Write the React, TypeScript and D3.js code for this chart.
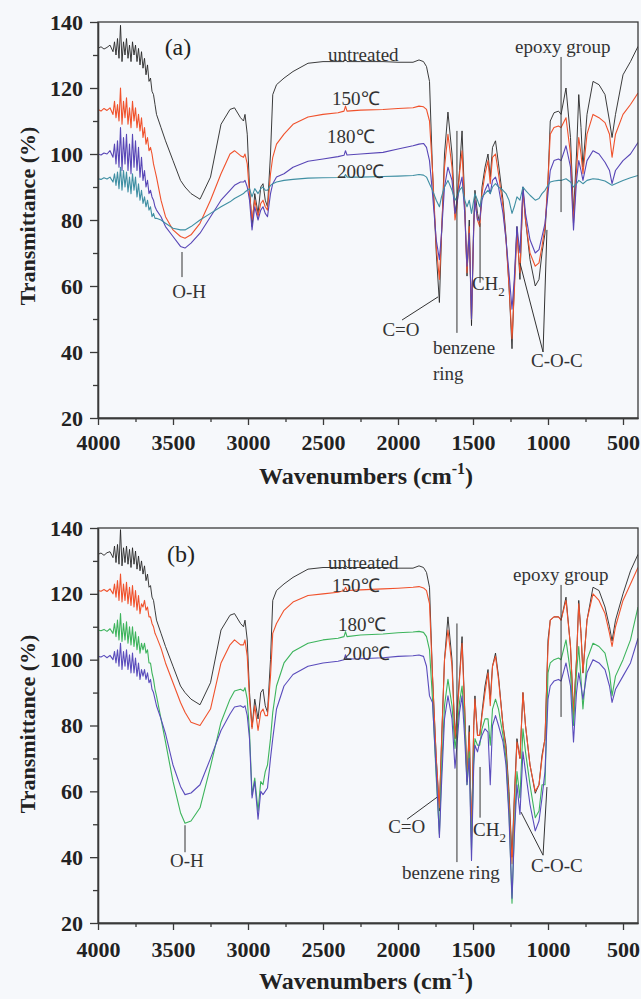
import { useEffect, useRef } from 'react';
import * as d3 from 'd3';

// shared wavenumber grid (cm-1), high to low
const wavenumbers = [
  4000, 3980, 3960, 3940, 3920,
  3900, 3890, 3880, 3870, 3860, 3850, 3840, 3830, 3820, 3810,
  3800, 3790, 3780, 3770, 3760, 3750, 3740, 3730, 3720, 3710,
  3700, 3690, 3680, 3670, 3660, 3650, 3640, 3630, 3620, 3610,
  3580, 3550, 3500, 3450, 3420, 3380, 3320, 3250, 3180, 3120,
  3090, 3050, 3030, 3020, 3005, 2990, 2973, 2955, 2933, 2915,
  2900, 2885, 2870, 2850, 2835, 2810, 2760, 2700, 2600, 2500,
  2400, 2360, 2350, 2340, 2250, 2100, 2000, 1900, 1860, 1830,
  1810, 1790, 1770, 1745, 1724, 1710, 1690, 1667, 1640, 1620,
  1607, 1590, 1573, 1555, 1540, 1525, 1510, 1495, 1487, 1470,
  1455, 1440, 1420, 1400, 1385, 1370, 1350, 1330, 1300, 1280,
  1260, 1240, 1225, 1207, 1187, 1167, 1150, 1120, 1085, 1060,
  1040, 1020, 1000, 985, 960, 930, 913, 880, 850, 830,
  810, 795, 780, 767, 740, 700, 660, 620, 590, 573,
  550, 500, 450, 400,
];

// panel (a)
const untreatedA = [
  132, 132.5, 131.8, 132.3, 133,
  131, 134, 130, 135, 129, 139, 128, 134, 130, 135,
  129, 133, 128, 134, 130, 133, 128, 132, 127, 131,
  126, 129, 124, 127, 122, 123, 119, 118, 115, 112,
  108, 104, 98, 92, 90, 88, 86.3, 93, 109, 113.5,
  114, 111, 110, 112, 106, 90, 78, 88, 82, 90,
  91, 86, 84, 100, 118, 121, 123, 125, 127.5, 128,
  128, 128, 128.6, 128, 128, 128, 127.8, 127.8, 128.5, 128,
  126.5, 122, 95, 70, 55, 75, 100, 112.7, 100, 82,
  86, 95, 107, 85, 63, 80, 48, 80, 89, 82,
  79, 90, 96, 100, 93, 102, 104, 97, 86, 75,
  60, 41, 60, 78, 62, 90, 80, 68, 60, 62,
  70, 76, 92, 110, 112.5, 113, 112, 120, 105, 82,
  100, 118, 108, 96, 112, 122, 121, 118, 110, 105,
  112, 124, 128, 132.6,
];
const t150A = [
  113.5, 113, 113.8, 113.2, 114,
  112, 116, 111, 115, 110, 120, 109, 116, 111, 117,
  109, 114, 108, 116, 110, 114, 108, 112, 107, 111,
  105, 108, 103, 105, 101, 102, 100, 97, 95, 93,
  86, 81, 77, 75, 74.5, 75.5, 79, 86, 94, 100,
  101, 99.5, 99, 100, 97, 88, 80, 86, 81, 85,
  86, 84, 83, 94, 99, 103, 106, 109, 111.2, 112,
  112.5, 113, 114.5, 113, 113.3, 113.5, 113.8, 114, 114.5, 114.3,
  113.5, 110, 95, 72, 62, 76, 96, 106, 96, 80,
  84, 94, 101, 83, 64, 78, 50, 78, 86, 80,
  78, 88, 94, 98, 91, 99, 100, 94, 84, 74,
  60, 44, 58, 76, 64, 89, 80, 70, 66, 67,
  72, 78, 92, 106, 108, 108.5, 108, 111, 100, 79,
  95, 105, 100, 94, 106, 112, 111, 109.5, 106, 99,
  106, 112, 115, 118.5,
];
const t180A = [
  100, 99.7, 100.3, 100, 101,
  99, 103, 97, 104, 96, 108, 95, 105, 97, 106,
  95, 103, 94, 106, 96, 104, 95, 102, 93, 99,
  92, 95, 90, 92, 88, 89, 87, 86, 84, 83,
  81, 78, 75, 72, 71.5, 73, 76, 81, 86, 89,
  90.5, 91.5, 91.5, 92, 90, 86, 77, 84, 80, 83,
  84, 82, 81, 88, 91, 93, 94, 96, 97.8, 98.5,
  99.2, 99.6, 101, 99.7, 100, 100.5, 101.5, 102.5, 103, 103.2,
  102, 98, 88, 74, 68, 76, 90, 96, 92, 82,
  85, 90, 93, 82, 66, 76, 50, 78, 86, 80,
  80, 86, 89, 91, 88, 92, 93, 90, 82, 74,
  64, 53, 62, 78, 70, 90, 82, 74, 70, 71,
  75, 79, 88, 95, 98, 98.5, 98, 102.5, 96, 77,
  92, 98, 95, 92, 98, 101, 100, 97.5, 95, 91,
  95, 98, 100, 103.5,
];
const t200A = [
  92.5, 92.3, 92.8, 92.4, 93,
  91.5, 94, 90.5, 94.5, 89.5, 96, 89, 95, 90, 94.5,
  88.5, 93, 88, 94, 89, 93, 87, 91, 86, 89,
  85, 87, 84, 86, 83, 84, 81, 82, 80.5, 80.5,
  80, 79, 77.5, 77, 77, 78, 80, 82, 84, 85.5,
  86.5, 87.5, 88, 88.5, 89, 89.5, 87, 89.5, 88, 89.5,
  90, 89, 89, 90.5, 91, 91.5, 92, 92.3, 92.7, 92.8,
  92.9, 93, 93.8, 93, 93, 93.2, 93.3, 93.5, 93.8, 93.6,
  93, 91, 89, 86, 84, 87, 90, 92, 89, 86,
  87, 89, 90, 86, 84, 86, 82, 86, 88, 86,
  84, 87, 88, 89, 88, 90, 91, 90, 89, 88,
  86, 82, 84, 87, 86, 90, 89, 87.5, 86, 86.5,
  88, 89, 90.5, 91.5, 91.8, 92, 92, 92.5, 91.5, 90,
  91, 92, 91.5, 91, 92, 92.5, 92.3, 91.8, 91, 90.5,
  91, 92, 92.8, 93.5,
];

// panel (b)
const untreatedB = [
  132, 132.4, 131.7, 132.5, 132.8,
  131, 134.5, 129.5, 135, 129, 139.5, 128.5, 134, 129.5, 134.5,
  129, 133.5, 128, 134, 129, 133, 127.5, 131.5, 127, 130,
  126, 128.5, 124, 126, 122, 122.5, 119, 118, 115, 112,
  108, 104, 98, 92, 90, 88, 86.3, 93, 109, 113.5,
  114, 111, 110, 112, 106, 90, 79.5, 88, 82, 90,
  91, 86, 84, 100, 118, 121, 123, 125, 127.5, 128,
  128, 128, 128.6, 128, 128, 128, 127.8, 127.8, 128.5, 128,
  126.5, 122, 95, 70, 54, 75, 100, 113, 100, 76,
  84, 95, 107, 85, 63, 80, 46, 80, 89, 77,
  77, 84, 92, 97, 88, 98, 102, 95, 80, 74,
  60, 40, 58, 76, 70, 90, 80, 68, 59.4, 62,
  71, 76, 106, 112, 113, 113, 112, 119, 104, 84,
  100, 118, 108, 96, 112, 122, 121, 116, 110, 105.7,
  112, 120, 127, 132,
];
const t150B = [
  121, 120.8, 121.3, 120.7, 121.5,
  120, 123, 119, 124, 118, 126, 117.5, 123, 118, 123.5,
  117, 122, 116.5, 122.5, 116, 121, 115, 119.5, 114, 117,
  116, 118, 115, 116, 113, 113, 111, 110, 108, 107,
  103.5, 99, 93, 87, 84, 81, 80, 85, 99, 104.5,
  106, 104.5, 104.5, 106, 101, 88, 79, 86, 78.5, 84,
  85, 83, 83, 95, 108, 111, 115, 117.5, 119.5, 120,
  120.5, 121, 122, 121, 121.2, 121.5, 121.7, 122, 122.2, 121.8,
  121, 117, 95, 70, 55, 74, 100, 109, 98, 76,
  82, 94, 105, 84, 63, 78, 46, 80, 88, 77,
  77, 83, 90, 96, 86, 98, 101, 94, 80, 72,
  58, 38, 56, 75, 70, 90, 80, 68, 60, 62,
  70, 76, 104, 112, 113, 113, 112, 118, 104, 83,
  100, 117, 108, 96, 112, 120, 118, 114, 108, 104,
  110, 118, 123, 128,
];
const t180B = [
  109, 108.8, 109.2, 108.6, 109.4,
  108, 111, 107, 112, 106, 114, 105.5, 111, 106, 111.5,
  105, 110, 104.5, 110, 104, 108.5, 103, 107, 102, 105,
  103, 105, 102, 103, 99, 99, 96, 94, 91, 89,
  82, 75, 63, 53.5, 50.3, 51, 55, 67.5, 81, 88,
  90.5, 91, 90.5, 91.5, 88, 78, 59, 64, 54, 63,
  62, 66, 68, 76, 84, 92, 99, 102.5, 105, 106,
  106.5, 107, 108.5, 107, 107.5, 107.8, 108.2, 108.4, 108.6, 108.3,
  107, 103, 88, 64, 47, 66, 86, 94, 86, 73,
  78, 87, 92, 80, 62, 72, 42, 70, 76, 74,
  74, 79, 82, 82, 74, 85, 88, 85, 77, 70,
  54, 26, 48, 66, 58, 79, 72, 62, 52, 54,
  62, 62, 96, 99, 100, 100.5, 100, 106, 96, 80,
  96, 104, 94, 85, 100, 105, 104, 102, 96, 89,
  95, 100, 106, 116,
];
const t200B = [
  101, 100.8, 101.3, 100.6, 101.3,
  100, 102.5, 99, 103, 98, 105, 97, 102.5, 98, 103,
  97, 101.5, 96, 102, 96, 100.5, 95, 99, 94, 97,
  95, 97, 94, 96, 93, 94, 91, 90, 88, 86,
  82, 77.5, 68, 61.5, 59, 59.5, 62, 70, 78.5, 83.5,
  85.6, 86, 85.5, 86, 83, 76, 58, 63, 51.5, 60,
  59, 60, 61, 70, 76, 85, 92, 95.5, 98, 99,
  99.5, 100, 101.5, 100.2, 100.3, 100.6, 101, 101.2, 101.4, 101,
  98, 89, 87, 66, 46, 62, 82, 89, 82, 67,
  74, 84, 89, 76, 62, 70, 39, 68, 74, 72,
  75, 77, 79, 78, 62, 80, 83, 80, 75, 68,
  52, 27.5, 46, 62, 53, 72, 66, 56, 48, 51,
  58, 66, 88, 92, 93.5, 94, 93.5, 99, 92, 75,
  90, 96, 92, 88, 96, 100, 99, 97, 92, 87,
  91, 95, 99, 106.5,
];

const xMajorTicks = [4000, 3500, 3000, 2500, 2000, 1500, 1000, 500];
const xMinorTicks = [3750, 3250, 2750, 2250, 1750, 1250, 750];
const yMajorTicks = [20, 40, 60, 80, 100, 120, 140];
const yMinorTicks = [30, 50, 70, 90, 110, 130];

const SERIF = "'Liberation Serif', 'Times New Roman', serif";

type Series = { name: string; values: number[]; color: string; width: number };
type Label = { text: string; wn: number; v: number; anchor?: string; sub?: string };
type Pointer = [number, number, number, number];

const panels: {
  top: number;
  bottom: number;
  titleY: number;
  tag: Label;
  series: Series[];
  labels: Label[];
  pointers: Pointer[];
}[] = [
  {
    top: 22,
    bottom: 418,
    titleY: 216,
    tag: { text: '(a)', wn: 3467, v: 130, anchor: 'middle' },
    series: [
      { name: 'untreated', values: untreatedA, color: '#262626', width: 0.9 },
      { name: '150℃', values: t150A, color: '#f0522c', width: 1.1 },
      { name: '180℃', values: t180A, color: '#5846b6', width: 1.1 },
      { name: '200℃', values: t200A, color: '#3f8fa3', width: 1.1 },
    ],
    labels: [
      { text: 'untreated', wn: 2467, v: 128.2 },
      { text: '150℃', wn: 2440, v: 114.8 },
      { text: '180℃', wn: 2473, v: 103.3 },
      { text: '200℃', wn: 2407, v: 92.7 },
      { text: 'epoxy group', wn: 1220, v: 130.6 },
      { text: 'O-H', wn: 3393, v: 56.4, anchor: 'middle' },
      { text: 'C=O', wn: 1980, v: 44.8, anchor: 'middle' },
      { text: 'benzene', wn: 1767, v: 39.4 },
      { text: 'ring', wn: 1767, v: 31.5 },
      { text: 'CH', wn: 1507, v: 58.8, sub: '2' },
      { text: 'C-O-C', wn: 1113, v: 35.5 },
    ],
    pointers: [
      [3440, 70.3, 3440, 62.7],
      [1973, 49.7, 1733, 56.7],
      [1607, 107, 1607, 45.8],
      [1453, 79, 1453, 61],
      [1033, 40, 1187, 67],
      [1033, 40, 1007, 77],
      [913, 129.4, 913, 82.4],
    ],
  },
  {
    top: 528,
    bottom: 923,
    titleY: 724,
    tag: { text: '(b)', wn: 3447, v: 129.7, anchor: 'middle' },
    series: [
      { name: 'untreated', values: untreatedB, color: '#262626', width: 0.9 },
      { name: '150℃', values: t150B, color: '#f0522c', width: 1.1 },
      { name: '180℃', values: t180B, color: '#3db45c', width: 1.1 },
      { name: '200℃', values: t200B, color: '#5a4cbc', width: 1.1 },
    ],
    labels: [
      { text: 'untreated', wn: 2467, v: 127.5 },
      { text: '150℃', wn: 2440, v: 120.6 },
      { text: '180℃', wn: 2400, v: 108.7 },
      { text: '200℃', wn: 2367, v: 99.9 },
      { text: 'epoxy group', wn: 1233, v: 123.9 },
      { text: 'O-H', wn: 3407, v: 37, anchor: 'middle' },
      { text: 'C=O', wn: 1942, v: 47.3, anchor: 'middle' },
      { text: 'benzene ring', wn: 1973, v: 33.4 },
      { text: 'CH', wn: 1500, v: 46.4, sub: '2' },
      { text: 'C-O-C', wn: 1113, v: 35.5 },
    ],
    pointers: [
      [3420, 49.7, 3420, 41.5],
      [1940, 51.5, 1740, 58.2],
      [1607, 111, 1607, 38.5],
      [1453, 67.4, 1453, 52],
      [1033, 40.6, 1180, 53.7],
      [1033, 40.6, 1007, 61.3],
      [913, 122.7, 913, 82.6],
    ],
  },
];

function App() {
  const svgRef = useRef<SVGSVGElement>(null);

  useEffect(() => {
    const svg = d3.select(svgRef.current);
    svg.selectAll('*').remove();

    svg.append('rect').attr('width', 641).attr('height', 999).attr('fill', '#f6f8fb');

    const x = d3.scaleLinear().domain([4000, 400]).range([98, 638]);

    panels.forEach((p, pi) => {
      const y = d3.scaleLinear().domain([20, 140]).range([p.bottom, p.top]);
      const g = svg.append('g');

      const clipId = `clip-${pi}`;
      g.append('clipPath')
        .attr('id', clipId)
        .append('rect')
        .attr('x', x(4000))
        .attr('y', p.top)
        .attr('width', x(400) - x(4000))
        .attr('height', p.bottom - p.top);

      const line = d3
        .line<number>()
        .x((_, i) => x(wavenumbers[i]))
        .y((d) => y(d));

      const lines = g.append('g').attr('clip-path', `url(#${clipId})`);
      p.series.forEach((s) => {
        lines
          .append('path')
          .attr('d', line(s.values))
          .attr('fill', 'none')
          .attr('stroke', s.color)
          .attr('stroke-width', s.width)
          .attr('stroke-linejoin', 'round');
      });

      // frame
      g.append('rect')
        .attr('x', x(4000))
        .attr('y', p.top)
        .attr('width', x(400) - x(4000))
        .attr('height', p.bottom - p.top)
        .attr('fill', 'none')
        .attr('stroke', '#3a3a3a')
        .attr('stroke-width', 1.3);

      // axes
      const xAxis = g
        .append('g')
        .attr('transform', `translate(0, ${p.bottom})`)
        .call(d3.axisBottom(x).tickValues(xMajorTicks).tickSize(7).tickSizeOuter(0).tickFormat(d3.format('d')));
      g.append('g')
        .attr('transform', `translate(0, ${p.bottom})`)
        .call(d3.axisBottom(x).tickValues(xMinorTicks).tickSize(4).tickSizeOuter(0).tickFormat(() => ''));
      const yAxis = g
        .append('g')
        .attr('transform', `translate(${x(4000)}, 0)`)
        .call(d3.axisLeft(y).tickValues(yMajorTicks).tickSize(8).tickSizeOuter(0));
      g.append('g')
        .attr('transform', `translate(${x(4000)}, 0)`)
        .call(d3.axisLeft(y).tickValues(yMinorTicks).tickSize(5).tickSizeOuter(0).tickFormat(() => ''));

      g.selectAll('.domain').attr('stroke', '#3a3a3a').attr('stroke-width', 1.3);
      g.selectAll('.tick line').attr('stroke', '#3a3a3a').attr('stroke-width', 1.3);

      xAxis
        .selectAll('text')
        .attr('y', pi === 0 ? 16 : 18)
        .attr('font-family', SERIF)
        .attr('font-size', 22)
        .attr('font-weight', 'bold')
        .attr('fill', '#222');
      yAxis
        .selectAll('text')
        .attr('x', -15)
        .attr('font-family', SERIF)
        .attr('font-size', 22)
        .attr('font-weight', 'bold')
        .attr('fill', '#222');

      // axis titles
      const xt = g
        .append('text')
        .attr('x', 366)
        .attr('y', pi === 0 ? 484 : 989)
        .attr('text-anchor', 'middle')
        .attr('font-family', SERIF)
        .attr('font-size', 24)
        .attr('font-weight', 'bold')
        .attr('fill', '#222');
      xt.append('tspan').text('Wavenumbers (cm');
      xt.append('tspan').attr('font-size', 16).attr('dy', -10).text('-1');
      xt.append('tspan').attr('dy', 10).text(')');

      g.append('text')
        .attr('transform', `translate(35, ${p.titleY}) rotate(-90)`)
        .attr('text-anchor', 'middle')
        .attr('font-family', SERIF)
        .attr('font-size', 22)
        .attr('font-weight', 'bold')
        .attr('fill', '#222')
        .text('Transmittance (%)');

      // panel tag
      g.append('text')
        .attr('x', x(p.tag.wn))
        .attr('y', y(p.tag.v))
        .attr('text-anchor', 'middle')
        .attr('font-family', SERIF)
        .attr('font-size', 24)
        .attr('fill', '#222')
        .text(p.tag.text);

      // pointers
      p.pointers.forEach(([w1, v1, w2, v2]) => {
        g.append('line')
          .attr('x1', x(w1))
          .attr('y1', y(v1))
          .attr('x2', x(w2))
          .attr('y2', y(v2))
          .attr('stroke', '#333')
          .attr('stroke-width', 1);
      });

      // labels
      p.labels.forEach((l) => {
        const t = g
          .append('text')
          .attr('x', x(l.wn))
          .attr('y', y(l.v))
          .attr('text-anchor', l.anchor || 'start')
          .attr('font-family', SERIF)
          .attr('font-size', 19)
          .attr('fill', '#333');
        t.append('tspan').text(l.text);
        if (l.sub) t.append('tspan').attr('font-size', 13).attr('dy', 6).text(l.sub);
      });
    });
  }, []);

  return (
    <svg
      ref={svgRef}
      width={641}
      height={999}
      style={{ position: 'absolute', left: 0, top: 0, display: 'block' }}
    />
  );
}

export default App;
